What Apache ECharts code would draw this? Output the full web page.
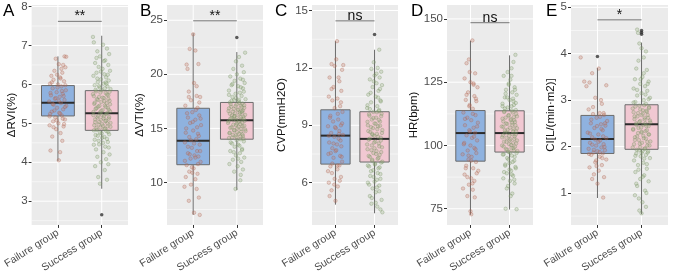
<!DOCTYPE html>
<html>
<head>
<meta charset="utf-8">
<script src="https://cdn.jsdelivr.net/npm/echarts@6/dist/echarts.min.js"></script>
<style>
  html, body { margin: 0; padding: 0; background: #fff; }
  #chart { width: 677px; height: 275px; }
</style>
</head>
<body>
<div id="chart"></div>
<script>
// groups on the x axis
const groups = ['Failure group', 'Success group']
const letters = ['A', 'B', 'C', 'D', 'E']
const yTitles = ['ΔRVI(%)', 'ΔVTI(%)', 'CVP(mmH2O)', 'HR(bpm)', 'CI[L/(min·m2)]']

// box stats per group: [lower whisker, q1, median, q3, upper whisker]
const rviBox = [[4.03, 5.19, 5.53, 5.97, 6.72], [3.32, 4.82, 5.26, 5.84, 7.25]]
const vtiBox = [[7.0, 11.64, 13.86, 16.86, 23.8], [9.3, 14.0, 15.75, 17.4, 22.06]]
const cvpBox = [[4.85, 6.97, 8.46, 9.81, 13.4], [4.4, 7.08, 8.29, 9.71, 12.95]]
const hrBox = [[72.6, 93.8, 104.9, 113.8, 141.4], [74.7, 97.4, 104.9, 113.7, 135.6]]
const ciBox = [[0.89, 1.85, 2.16, 2.67, 3.69], [0.54, 1.94, 2.48, 2.9, 4.24]]

// outliers: [group, value]
const rviOut = [[2, 2.65]]
const vtiOut = [[2, 23.4]]
const cvpOut = [[2, 13.75]]
const hrOut = []
const ciOut = [[1, 3.94], [2, 4.5], [2, 4.46], [2, 4.42]]

// y ticks
const rviTicks = [3, 4, 5, 6, 7, 8]
const vtiTicks = [10, 15, 20, 25]
const cvpTicks = [6, 9, 12, 15]
const hrTicks = [75, 100, 125, 150]
const ciTicks = [1, 2, 3, 4, 5]

// significance: label and bar height
const sigLabels = ['**', '**', 'ns', 'ns', '*']
const sigLevels = [7.62, 24.95, 14.46, 148.5, 4.73]

// jittered points: [offset from group centre, value]
const rviFailure = [[0.15,6.72],[0.19,6.71],[-0.05,6.66],[0.12,6.5],[0.02,6.52],[0.17,6.44],[-0.08,6.35],[0.1,6.3],[-0.15,6.22],[0.05,6.18],[-0.1,6.12],[0.14,6.08],[-0.18,6.02],[0.0,6.0],[0.08,5.95],[-0.12,5.9],[0.18,5.85],[-0.03,5.8],[0.11,5.76],[-0.16,5.72],[0.04,5.68],[-0.07,5.63],[0.15,5.6],[-0.2,5.56],[0.07,5.52],[-0.1,5.48],[0.19,5.45],[-0.02,5.4],[0.12,5.36],[-0.14,5.3],[0.03,5.27],[-0.18,5.24],[0.09,5.2],[-0.06,5.15],[0.16,5.1],[-0.11,5.05],[0.01,5.0],[-0.19,4.95],[0.13,4.92],[-0.04,4.85],[0.06,4.75],[-0.13,4.66],[0.1,4.55],[-0.17,4.3],[0.05,4.26],[0.02,4.05],
  [0.06,6.15],[-0.14,6.05],[0.17,5.98],[-0.01,5.92],[0.09,5.83],[-0.17,5.78],[0.13,5.7],[-0.05,5.65],[0.02,5.58],[-0.12,5.5],[0.16,5.42],[-0.08,5.33],[0.05,5.25],[-0.19,5.18],[0.11,5.12],[-0.03,5.08],[0.14,4.98],[-0.1,4.9],[0.08,6.4],[-0.02,6.25]]
const rviSuccess = [[-0.2,7.22],[-0.18,7.08],[0.03,7.02],[0.12,6.92],[-0.1,6.85],[0.17,6.78],[-0.04,6.72],[0.08,6.62],[-0.15,6.55],[0.15,6.5],[-0.07,6.45],[0.02,6.4],[0.19,6.35],[-0.12,6.3],[0.06,6.26],[-0.19,6.22],[0.1,6.18],[-0.02,6.13],[0.16,6.1],[-0.09,6.06],[0.04,6.02],[-0.16,5.98],[0.13,5.95],[-0.05,5.92],[0.2,5.88],[0.0,5.85],[-0.13,5.82],[0.09,5.78],[-0.2,5.75],[0.15,5.72],[-0.06,5.68],[0.05,5.65],[-0.11,5.62],[0.18,5.58],[-0.01,5.55],[0.11,5.52],[-0.17,5.5],[0.07,5.46],[-0.08,5.43],[0.14,5.4],[-0.14,5.37],[0.02,5.34],[0.19,5.31],[-0.04,5.28],[0.1,5.24],[-0.19,5.21],[0.05,5.18],[-0.1,5.15],[0.16,5.12],[-0.02,5.09],[0.08,5.06],[-0.15,5.03],[0.13,5.0],[-0.07,4.97],[0.03,4.94],[0.2,4.91],[-0.12,4.88],[0.06,4.85],[-0.18,4.82],[0.11,4.8],[-0.04,4.76],[0.17,4.72],[-0.09,4.68],[0.01,4.63],[-0.16,4.58],[0.14,4.52],[-0.06,4.46],[0.08,4.4],[-0.13,4.33],[0.04,4.26],[0.18,4.2],[-0.1,4.14],[0.1,4.08],[-0.02,4.0],[0.15,3.95],[-0.15,3.9],[0.07,3.8],[-0.08,3.62],[0.12,3.55],[-0.04,3.45],
  [0.07,5.9],[-0.14,5.86],[0.18,5.81],[-0.03,5.79],[0.12,5.74],[-0.18,5.7],[0.02,5.66],[0.15,5.63],[-0.09,5.6],[0.06,5.57],[-0.16,5.53],[0.19,5.49],[-0.05,5.45],[0.09,5.42],[-0.12,5.39],[0.16,5.35],[-0.01,5.32],[-0.19,5.29],[0.12,5.26],[0.0,5.22],[-0.08,5.19],[0.17,5.16],[0.04,5.13],[-0.15,5.1],[0.1,5.07],[-0.06,5.04],[0.2,5.01],[0.01,4.98],[-0.17,4.95],[0.13,4.92],[-0.03,4.89],[0.08,4.86],[-0.11,4.83],[0.15,4.78],[0.0,4.74],[-0.14,4.7],[0.06,4.65],[0.12,4.6],[-0.07,4.55],[0.03,4.5],[-0.18,4.45],[0.16,4.38],[0.09,6.05],[-0.1,6.15],[0.14,6.25],[-0.02,6.33],[0.05,6.6],[-0.12,6.68],[0.11,6.02],[-0.06,5.96]]
const vtiFailure = [[0.0,23.7],[-0.08,22.35],[0.05,22.2],[-0.15,20.9],[0.12,20.95],[-0.13,20.5],[0.02,19.2],[-0.1,18.4],[0.08,18.0],[0.16,17.9],[-0.05,17.6],[-0.18,17.1],[0.1,16.9],[-0.02,16.5],[0.14,16.2],[-0.12,16.0],[0.05,15.8],[-0.07,15.5],[0.18,15.3],[-0.16,15.0],[0.0,14.8],[0.11,14.5],[-0.09,14.2],[0.07,14.0],[-0.19,13.7],[0.15,13.5],[-0.03,13.2],[0.09,12.9],[-0.12,12.7],[0.03,12.5],[0.12,12.4],[-0.06,12.2],[0.17,11.9],[-0.15,11.6],[0.01,11.3],[-0.09,11.0],[0.1,10.8],[-0.17,10.5],[0.05,10.3],[-0.05,9.8],[-0.2,9.6],[0.08,9.4],[0.13,8.6],[-0.1,8.3],[0.02,7.2],[0.15,7.0],
  [0.06,16.7],[-0.14,16.4],[0.17,15.9],[-0.01,15.6],[0.09,15.1],[-0.17,14.6],[0.13,14.3],[-0.05,13.9],[0.02,13.6],[-0.12,13.3],[0.16,12.9],[-0.08,12.6],[0.05,12.3],[-0.19,12.0],[0.11,11.7],[-0.03,11.4],[0.14,17.4],[-0.1,17.9],[0.08,18.9],[-0.02,10.9]]
const vtiSuccess = [[0.19,22.0],[0.05,21.6],[-0.02,21.2],[0.12,20.8],[-0.08,20.5],[0.16,20.2],[0.0,20.0],[-0.15,19.8],[0.08,19.6],[-0.05,19.4],[0.18,19.2],[-0.12,19.0],[0.03,18.9],[0.14,18.7],[-0.18,18.5],[0.07,18.3],[-0.03,18.2],[0.11,18.0],[-0.1,17.9],[0.2,17.7],[-0.06,17.6],[0.04,17.5],[-0.16,17.4],[0.13,17.3],[-0.01,17.2],[0.09,17.1],[-0.13,17.0],[0.17,16.9],[-0.07,16.8],[0.02,16.7],[-0.19,16.6],[0.12,16.5],[-0.04,16.4],[0.06,16.3],[-0.11,16.2],[0.15,16.1],[0.0,16.0],[-0.15,15.9],[0.1,15.85],[-0.08,15.8],[0.18,15.7],[0.04,15.6],[-0.2,15.5],[0.08,15.4],[-0.02,15.3],[0.13,15.2],[-0.12,15.1],[0.01,15.0],[0.19,14.9],[-0.06,14.8],[0.1,14.7],[-0.16,14.6],[0.05,14.5],[-0.09,14.4],[0.14,14.3],[-0.01,14.2],[-0.18,14.1],[0.08,14.0],[0.16,13.8],[-0.11,13.6],[0.03,13.5],[-0.05,13.3],[0.12,13.1],[-0.15,12.9],[0.07,12.7],[-0.02,12.5],[0.17,12.3],[-0.09,12.1],[0.1,11.9],[-0.17,11.7],[0.02,11.5],[0.14,11.2],[-0.06,11.0],[0.09,10.7],[0.08,10.2],[-0.03,9.4],
  [0.06,17.35],[-0.14,17.25],[0.17,17.15],[-0.03,17.05],[0.11,16.95],[-0.18,16.85],[0.03,16.75],[0.14,16.65],[-0.09,16.55],[0.07,16.45],[-0.16,16.35],[0.19,16.25],[-0.05,16.15],[0.09,16.05],[-0.12,15.95],[0.16,15.9],[-0.01,15.75],[-0.19,15.65],[0.12,15.55],[0.0,15.45],[-0.08,15.35],[0.17,15.25],[0.04,15.15],[-0.15,15.05],[0.1,14.95],[-0.06,14.85],[0.2,14.75],[0.01,14.65],[-0.17,14.55],[0.13,14.45],[-0.03,14.35],[0.08,14.25],[-0.11,14.15],[0.15,14.05],[0.0,13.9],[-0.14,13.7],[0.06,13.4],[0.12,13.0],[-0.07,12.8],[0.03,12.2],[-0.18,18.1],[0.16,18.4],[0.09,18.8],[-0.1,19.1],[0.14,19.5],[-0.02,17.8],[0.05,17.65],[-0.12,17.55],[0.11,16.6],[-0.06,16.1]]
const cvpFailure = [[0.04,13.4],[0.02,12.45],[-0.1,12.2],[0.2,12.15],[0.17,11.9],[-0.15,11.5],[0.1,11.3],[-0.05,11.0],[0.15,10.8],[-0.17,10.5],[0.05,10.4],[-0.08,10.3],[0.12,10.0],[-0.02,9.9],[0.18,9.7],[-0.13,9.5],[0.07,9.3],[-0.06,9.2],[0.14,9.0],[-0.19,8.95],[0.01,8.85],[0.1,8.7],[-0.11,8.6],[0.19,8.5],[-0.03,8.4],[0.08,8.3],[-0.16,8.1],[0.04,8.0],[0.15,7.9],[-0.08,7.8],[0.0,7.65],[-0.18,7.5],[0.12,7.4],[-0.05,7.3],[0.17,7.1],[0.1,6.9],[-0.13,6.85],[0.05,6.7],[-0.09,6.5],[0.14,6.3],[-0.02,6.2],[-0.17,6.0],[0.06,5.8],[-0.1,5.6],[-0.15,5.3],[0.0,5.05],
  [0.06,9.6],[-0.14,9.4],[0.17,9.1],[-0.01,8.9],[0.09,8.55],[-0.17,8.45],[0.13,8.2],[-0.05,8.05],[0.02,7.7],[-0.12,7.55],[0.16,7.35],[-0.08,7.0],[0.05,6.9],[-0.19,6.6],[0.11,6.1],[-0.03,5.9],[0.14,10.2],[-0.1,10.9],[0.08,11.5],[-0.02,12.1]]
const cvpSuccess = [[0.12,12.95],[-0.02,12.3],[0.08,12.0],[-0.08,11.95],[0.17,11.8],[0.0,11.6],[0.13,11.5],[-0.12,11.4],[0.05,11.2],[0.19,11.1],[-0.05,11.0],[0.1,10.8],[-0.16,10.6],[0.03,10.5],[0.15,10.3],[-0.09,10.2],[0.07,10.0],[-0.19,9.9],[0.12,9.8],[-0.03,9.7],[0.18,9.6],[-0.13,9.5],[0.04,9.4],[-0.07,9.3],[0.14,9.2],[0.0,9.1],[-0.17,9.0],[0.09,8.95],[-0.04,8.85],[0.2,8.75],[-0.11,8.65],[0.06,8.55],[-0.01,8.45],[0.16,8.35],[-0.15,8.25],[0.02,8.15],[0.11,8.05],[-0.07,7.95],[0.19,7.85],[-0.18,7.75],[0.05,7.65],[-0.03,7.55],[0.13,7.45],[-0.12,7.35],[0.08,7.25],[-0.06,7.15],[0.17,7.05],[0.01,6.95],[-0.14,6.85],[0.1,6.75],[-0.09,6.6],[0.15,6.45],[-0.02,6.3],[0.06,6.15],[-0.17,6.0],[0.12,5.85],[-0.05,5.7],[0.03,5.5],[-0.12,5.3],[0.18,5.1],[-0.08,4.9],[0.07,4.75],[0.15,4.6],[0.2,4.45],
  [0.06,9.68],[-0.14,9.58],[0.17,9.48],[-0.03,9.38],[0.11,9.28],[-0.18,9.18],[0.03,9.08],[0.14,8.98],[-0.09,8.9],[0.07,8.8],[-0.16,8.7],[0.19,8.6],[-0.05,8.5],[0.09,8.4],[-0.12,8.3],[0.16,8.2],[-0.01,8.1],[-0.19,8.0],[0.12,7.9],[0.0,7.8],[-0.08,7.7],[0.17,7.6],[0.04,7.5],[-0.15,7.4],[0.1,7.3],[-0.06,7.2],[0.2,7.1],[0.01,7.0],[-0.17,6.9],[0.13,6.8],[-0.03,6.65],[0.08,6.5],[-0.11,6.35],[0.15,6.2],[0.0,6.05],[-0.14,5.9],[0.06,5.75],[0.12,5.55],[-0.07,5.2],[0.03,4.95],[-0.18,10.05],[0.16,10.25],[0.09,10.45],[-0.1,10.7],[0.14,10.9],[-0.02,11.3],[0.05,11.7],[-0.12,9.85],[0.11,9.75],[-0.06,8.55]]
const hrFailure = [[0.05,141.5],[-0.04,134],[-0.1,132.5],[0.12,128.5],[-0.15,126.5],[0.0,125],[0.08,124],[0.18,123],[-0.06,121],[0.1,119.5],[-0.12,118],[0.15,117.5],[-0.02,116],[0.06,114.5],[-0.18,113],[0.13,112],[-0.08,111],[0.02,110],[0.19,109],[-0.14,108],[0.08,107],[-0.03,106],[0.12,105],[-0.1,104],[0.04,103],[0.17,102],[-0.16,101],[0.0,100],[0.1,99],[-0.07,98],[0.15,97],[-0.2,96.5],[0.03,95.5],[-0.05,94.5],[0.14,93.5],[-0.11,92],[0.07,91],[0.2,90],[-0.15,88.5],[0.02,87],[0.1,86],[-0.04,84.5],[0.06,82.5],[-0.08,80],[0.0,74],[0.02,72.8],
  [0.06,112.5],[-0.14,110.5],[0.17,107.5],[-0.01,105.5],[0.09,103.5],[-0.17,100.5],[0.13,98.5],[-0.05,96],[0.02,94],[-0.12,91],[0.16,89],[-0.08,87.5],[0.05,85],[-0.19,83],[0.11,79.5],[-0.03,115.5],[0.14,118.5],[-0.1,120],[0.08,124.5],[-0.02,129]]
const hrSuccess = [[0.15,135.8],[0.1,133],[0.05,130.5],[-0.05,129],[-0.15,127.5],[0.02,126],[-0.02,124.5],[0.13,123],[-0.09,122],[0.07,121],[0.18,120],[-0.12,119],[0.0,118],[0.1,117.5],[-0.18,116.5],[0.05,115.5],[-0.05,115],[0.16,114],[-0.13,113.5],[0.08,113],[-0.02,112],[0.19,111.5],[-0.1,111],[0.03,110.5],[0.12,110],[-0.16,109.5],[0.06,109],[-0.06,108.5],[0.15,108],[-0.2,107.5],[0.01,107],[0.1,106.5],[-0.12,106],[0.17,105.5],[-0.04,105],[0.07,104.5],[-0.17,104],[0.13,103.5],[-0.08,103],[0.02,102.5],[0.19,102],[-0.14,101.5],[0.09,101],[-0.01,100.5],[-0.19,100],[0.14,99.5],[0.05,99],[-0.09,98.5],[0.11,98],[-0.03,97.5],[0.18,97],[-0.15,96.5],[0.06,96],[-0.06,95],[0.12,94],[0.0,93],[-0.11,92],[0.16,91],[0.04,90],[-0.07,89],[0.09,88],[-0.16,87],[0.01,86],[0.13,85],[-0.04,84],[0.07,81],[-0.1,75],[0.18,74.8],
  [0.06,113.8],[-0.14,113.2],[0.17,112.5],[-0.03,111.8],[0.11,111.2],[-0.18,110.6],[0.03,110],[0.14,109.3],[-0.09,108.7],[0.07,108.1],[-0.16,107.4],[0.19,106.8],[-0.05,106.2],[0.09,105.6],[-0.12,105],[0.16,104.4],[-0.01,103.8],[-0.19,103.2],[0.12,102.6],[0.0,102],[-0.08,101.4],[0.17,100.8],[0.04,100.2],[-0.15,99.6],[0.1,99],[-0.06,98.4],[0.2,97.8],[0.01,97.2],[-0.17,96.4],[0.13,95.5],[-0.03,94.5],[0.08,93.5],[-0.11,92.5],[0.15,91.5],[0.0,90.5],[-0.14,89.5],[0.06,88.5],[0.12,86.5],[-0.07,83],[0.03,80],[-0.18,115.5],[0.16,116.8],[0.09,118.5],[-0.1,120.5],[0.14,122],[-0.02,124],[0.05,127.5],[-0.12,114.6],[0.11,116],[-0.06,119]]
const ciFailure = [[-0.38,3.92],[0.03,3.68],[-0.12,3.58],[-0.3,3.4],[-0.18,3.38],[-0.25,3.3],[0.2,3.32],[-0.05,3.05],[0.1,2.92],[-0.2,2.8],[0.05,2.72],[-0.1,2.7],[0.15,2.68],[-0.02,2.62],[0.22,2.55],[-0.15,2.5],[0.08,2.48],[0.18,2.45],[-0.07,2.4],[0.12,2.35],[-0.22,2.3],[0.02,2.26],[-0.12,2.2],[0.2,2.18],[0.06,2.13],[-0.17,2.08],[0.14,2.05],[-0.03,2.02],[0.09,1.98],[-0.2,1.95],[0.17,1.92],[0.0,1.9],[-0.09,1.87],[0.12,1.85],[-0.14,1.82],[0.05,1.78],[0.2,1.72],[-0.05,1.66],[0.1,1.6],[-0.18,1.55],[0.03,1.48],[-0.08,1.4],[0.15,1.34],[-0.12,1.3],[0.0,1.2],[0.13,0.9],
  [0.06,2.64],[-0.14,2.58],[0.17,2.5],[-0.01,2.44],[0.09,2.38],[-0.17,2.28],[0.13,2.22],[-0.05,2.15],[0.02,2.1],[-0.12,2.04],[0.16,1.99],[-0.08,1.93],[0.05,1.88],[-0.19,1.84],[0.11,1.75],[-0.03,1.7],[0.14,2.72],[-0.1,2.85],[0.08,3.0],[-0.02,1.58]]
const ciSuccess = [[-0.1,4.52],[-0.08,4.45],[-0.05,4.22],[0.0,4.12],[0.1,4.05],[0.05,3.92],[-0.07,3.85],[-0.12,3.68],[0.12,3.65],[0.02,3.5],[-0.15,3.45],[0.16,3.4],[-0.03,3.35],[0.08,3.3],[-0.18,3.25],[0.13,3.2],[0.0,3.15],[-0.1,3.1],[0.19,3.05],[0.05,3.0],[-0.14,2.96],[0.1,2.92],[-0.05,2.88],[0.17,2.85],[-0.2,2.82],[0.03,2.78],[0.12,2.75],[-0.08,2.72],[0.0,2.68],[-0.16,2.65],[0.15,2.62],[0.07,2.58],[-0.03,2.55],[0.2,2.52],[-0.12,2.5],[0.04,2.47],[0.11,2.44],[-0.07,2.4],[-0.19,2.36],[0.09,2.33],[0.0,2.3],[0.16,2.26],[-0.1,2.22],[0.05,2.18],[-0.15,2.14],[0.13,2.1],[-0.04,2.06],[0.18,2.02],[-0.2,1.98],[0.07,1.95],[-0.06,1.92],[0.02,1.9],[0.14,1.87],[-0.12,1.85],[0.1,1.82],[-0.02,1.79],[0.19,1.75],[-0.17,1.7],[0.04,1.65],[-0.08,1.6],[0.12,1.52],[-0.14,1.45],[0.06,1.38],[-0.03,1.3],[0.16,1.25],[-0.1,1.15],[0.08,1.05],[-0.15,0.95],[0.02,0.8],[0.1,0.7],[-0.05,0.62],[0.0,0.56],
  [0.06,2.89],[-0.14,2.86],[0.17,2.83],[-0.03,2.8],[0.11,2.77],[-0.18,2.74],[0.03,2.71],[0.14,2.68],[-0.09,2.65],[0.07,2.62],[-0.16,2.59],[0.19,2.56],[-0.05,2.53],[0.09,2.5],[-0.12,2.47],[0.16,2.44],[-0.01,2.41],[-0.19,2.38],[0.12,2.35],[0.0,2.32],[-0.08,2.29],[0.17,2.26],[0.04,2.23],[-0.15,2.2],[0.1,2.17],[-0.06,2.14],[0.2,2.11],[0.01,2.08],[-0.17,2.05],[0.13,2.02],[-0.03,1.99],[0.08,1.96],[-0.11,1.93],[0.15,1.9],[0.0,1.86],[-0.14,1.8],[0.06,1.74],[0.12,1.62],[-0.07,1.5],[0.03,1.35],[-0.18,2.95],[0.16,3.02],[0.09,3.12],[-0.1,3.22],[0.14,3.35],[-0.02,3.45],[0.05,3.58],[-0.12,1.2],[0.11,1.0],[-0.06,0.88]]

const panels = [
  { box: rviBox, out: rviOut, ticks: rviTicks, fail: rviFailure, succ: rviSuccess, min: 2.39, max: 8.04, minors: [2.5, 3.5, 4.5, 5.5, 6.5, 7.5] },
  { box: vtiBox, out: vtiOut, ticks: vtiTicks, fail: vtiFailure, succ: vtiSuccess, min: 6.07, max: 26.41, minors: [7.5, 12.5, 17.5, 22.5] },
  { box: cvpBox, out: cvpOut, ticks: cvpTicks, fail: cvpFailure, succ: cvpSuccess, min: 3.79, max: 15.29, minors: [4.5, 7.5, 10.5, 13.5] },
  { box: hrBox, out: hrOut, ticks: hrTicks, fail: hrFailure, succ: hrSuccess, min: 68.6, max: 155.5, minors: [87.5, 112.5, 137.5] },
  { box: ciBox, out: ciOut, ticks: ciTicks, fail: ciFailure, succ: ciSuccess, min: 0.31, max: 5.05, minors: [0.5, 1.5, 2.5, 3.5, 4.5] }
]

// grid layout (px)
const layout = [
  { left: 24, width: 104, nameGap: 13 },
  { left: 167, width: 96, nameGap: 18 },
  { left: 312, width: 86, nameGap: 24 },
  { left: 447, width: 86, nameGap: 25 },
  { left: 571, width: 97, nameGap: 11 }
]
const letterX = [3, 140, 275, 411, 546]

const boxColors = ['#8FB2DF', '#F1C8D2']
const FONT = 'Liberation Sans, Arial, sans-serif'

function renderGridLines (params, api) {
  const kind = api.value(0)
  const v = api.value(1)
  const cs = params.coordSys
  if (kind === 2) {
    const p = api.coord([v, 0])
    return { type: 'line', shape: { x1: p[0], y1: cs.y, x2: p[0], y2: cs.y + cs.height }, style: { stroke: '#fff', lineWidth: 1 } }
  }
  const p = api.coord([1, v])
  return {
    type: 'line',
    shape: { x1: cs.x, y1: p[1], x2: cs.x + cs.width, y2: p[1] },
    style: { stroke: '#fff', lineWidth: kind === 0 ? 1 : 0.5 }
  }
}

function renderBox (params, api) {
  const x = api.value(0)
  const half = 0.375
  const low = api.coord([x, api.value(1)])
  const q1 = api.coord([x + half, api.value(2)])
  const med = api.value(3)
  const q3 = api.coord([x - half, api.value(4)])
  const high = api.coord([x, api.value(5)])
  const mL = api.coord([x - half, med])
  const mR = api.coord([x + half, med])
  return {
    type: 'group',
    children: [
      { type: 'line', shape: { x1: high[0], y1: high[1], x2: high[0], y2: q3[1] }, style: { stroke: '#6b6b6b', lineWidth: 1 } },
      { type: 'line', shape: { x1: low[0], y1: q1[1], x2: low[0], y2: low[1] }, style: { stroke: '#6b6b6b', lineWidth: 1 } },
      { type: 'rect', shape: { x: q3[0], y: q3[1], width: q1[0] - q3[0], height: q1[1] - q3[1] }, style: { fill: boxColors[params.dataIndex], stroke: '#6b6b6b', lineWidth: 1 } },
      { type: 'line', shape: { x1: mL[0], y1: mL[1], x2: mR[0], y2: mR[1] }, style: { stroke: '#2b2b2b', lineWidth: 2 } }
    ]
  }
}

function renderSig (params, api) {
  const a = api.coord([api.value(0), api.value(2)])
  const b = api.coord([api.value(1), api.value(2)])
  return {
    type: 'group',
    children: [
      { type: 'line', shape: { x1: a[0], y1: a[1], x2: b[0], y2: b[1] }, style: { stroke: '#777', lineWidth: 1 } },
      {
        type: 'text',
        x: (a[0] + b[0]) / 2,
        y: a[1] + 2,
        style: { text: sigLabels[api.value(3)], fill: '#111', font: '14px ' + FONT, textAlign: 'center', textVerticalAlign: 'bottom' }
      }
    ]
  }
}

const grids = []
const xAxes = []
const yAxes = []
const series = []
const graphics = []

panels.forEach((p, i) => {
  grids.push({
    left: layout[i].left, top: 5, width: layout[i].width, height: 226,
    show: true, backgroundColor: '#EBEBEB', borderWidth: 0
  })
  xAxes.push({
    type: 'value', gridIndex: i, min: 0.4, max: 2.6,
    axisLine: { show: false },
    splitLine: { show: false },
    axisTick: { show: true, customValues: [1, 2], length: 3, lineStyle: { color: '#333' } },
    axisLabel: {
      customValues: [1, 2], rotate: 32, margin: 7,
      color: '#4D4D4D', fontSize: 10.5, fontFamily: FONT,
      formatter: v => groups[Math.round(v) - 1]
    }
  })
  yAxes.push({
    type: 'value', gridIndex: i, min: p.min, max: p.max,
    name: yTitles[i], nameLocation: 'middle', nameGap: layout[i].nameGap, nameRotate: 90,
    nameTextStyle: { color: '#111', fontSize: 11.5, fontFamily: FONT },
    axisLine: { show: false },
    splitLine: { show: false },
    axisTick: { show: true, customValues: p.ticks, length: 3, lineStyle: { color: '#333' } },
    axisLabel: { customValues: p.ticks, margin: 4, color: '#4D4D4D', fontSize: 11.5, fontFamily: FONT }
  })

  const lines = []
  p.ticks.forEach(t => lines.push([0, t]))
  p.minors.forEach(t => lines.push([1, t]))
  lines.push([2, 1], [2, 2])
  series.push({
    type: 'custom', xAxisIndex: i, yAxisIndex: i, z: 1, silent: true,
    renderItem: renderGridLines, data: lines
  })
  series.push({
    type: 'custom', xAxisIndex: i, yAxisIndex: i, z: 2, silent: true,
    renderItem: renderBox,
    data: p.box.map((b, g) => [g + 1].concat(b))
  })
  series.push({
    type: 'scatter', xAxisIndex: i, yAxisIndex: i, z: 3, symbolSize: 3.5,
    itemStyle: { color: 'rgba(196,122,100,0.35)', borderColor: 'rgba(170,95,75,0.55)', borderWidth: 0.7 },
    data: p.fail.map(d => [1 + d[0], d[1]])
  })
  series.push({
    type: 'scatter', xAxisIndex: i, yAxisIndex: i, z: 3, symbolSize: 3.5,
    itemStyle: { color: 'rgba(150,176,125,0.35)', borderColor: 'rgba(110,140,90,0.55)', borderWidth: 0.7 },
    data: p.succ.map(d => [2 + d[0], d[1]])
  })
  series.push({
    type: 'scatter', xAxisIndex: i, yAxisIndex: i, z: 4, symbolSize: 3.5,
    itemStyle: { color: '#333' },
    data: p.out
  })
  series.push({
    type: 'custom', xAxisIndex: i, yAxisIndex: i, z: 4, silent: true,
    renderItem: renderSig,
    data: [[1, 2, sigLevels[i], i]]
  })
  graphics.push({
    type: 'text', left: letterX[i], top: 3,
    style: { text: letters[i], font: '17px ' + FONT, fill: '#000' }
  })
})

const chart = echarts.init(document.getElementById('chart'))
chart.setOption({
  animation: false,
  grid: grids,
  xAxis: xAxes,
  yAxis: yAxes,
  series: series,
  graphic: graphics
})
</script>
</body>
</html>
